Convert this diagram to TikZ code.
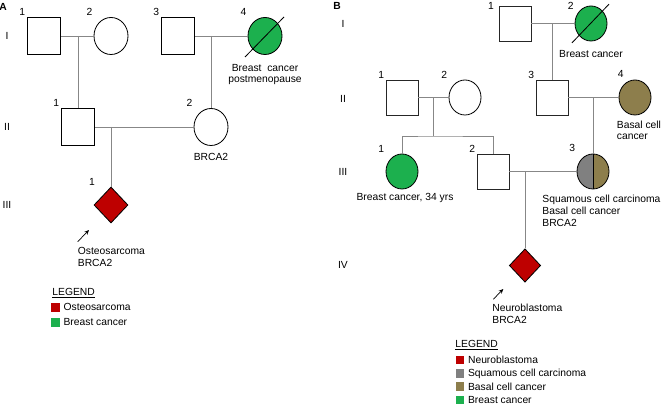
\documentclass[tikz,border=0pt]{standalone}
\usepackage{fontspec}
\setmainfont{Liberation Sans}
\usetikzlibrary{shapes.geometric,positioning,arrows.meta}

\definecolor{osteo}{RGB}{190,0,0}
\definecolor{breast}{RGB}{28,176,78}
\definecolor{squam}{RGB}{128,128,128}
\definecolor{basal}{RGB}{141,126,76}
\definecolor{kin}{RGB}{135,135,135}

\begin{document}
\begin{tikzpicture}[x=0.03cm,y=-0.03cm,font=\fontsize{8.8}{10.2}\selectfont,
    male/.style={rectangle,draw,line width=1.3pt,minimum width=1.0cm,minimum height=1.1cm,inner sep=0pt},
    female/.style={ellipse,draw,line width=0.7pt,minimum width=1.02cm,minimum height=1.11cm,inner sep=0pt},
    maleB/.style={rectangle,draw=black!85,line width=0.7pt,minimum width=0.96cm,minimum height=1.05cm,inner sep=0pt},
    femaleB/.style={ellipse,draw,line width=0.7pt,minimum width=0.96cm,minimum height=1.05cm,inner sep=0pt},
    proband/.style={diamond,draw,line width=0.7pt,fill=osteo,minimum width=1.02cm,minimum height=1.08cm,inner sep=0pt},
    num/.style={anchor=south east,inner sep=1pt},
    cnum/.style={num,xshift=-0.15cm,yshift=0.16cm},
    txt/.style={inner sep=1pt},
    tight/.style={txt,font=\fontsize{8.8}{9}\selectfont},
    kinline/.style={draw=kin,line width=0.7pt},
    dead/.style={line width=0.7pt},
    arr/.style={-{Stealth[length=4pt,width=3.5pt]},line width=0.6pt},
    key/.style={rectangle,fill=#1,minimum size=0.26cm,inner sep=0pt}]
  \useasboundingbox (0,0) rectangle (661,405);

  % panel A
  \node[txt,font=\fontsize{8.8}{10.2}\selectfont\bfseries,inner sep=0pt] (tagA) at (3,7) {A};
  \node[txt] (gA1) at (7,36) {I};
  \node[txt] (gA2) at (7,127) {II};
  \node[txt] (gA3) at (7,205) {III};

  \node[male,label={[num]north west:1}] (A11) at (44,36) {};
  \node[female,label={[cnum]north west:2}] (A12) at (111,36) {};
  \node[male,label={[num]north west:3}] (A13) at (178,36) {};
  \node[female,fill=breast,label={[cnum]north west:4}] (A14) at (265,36) {};
  \node[male,label={[num]north west:1}] (A21) at (78,127) {};
  \node[female,label={[cnum]north west:2}] (A22) at (211,127) {};
  \node[proband,label={[num,xshift=-0.44cm]north:1}] (A31) at (111,205) {};

  \draw[dead] ([shift={(-0.6cm,-0.63cm)}]A14.center) -- ([shift={(0.57cm,0.57cm)}]A14.center);

  \coordinate (mA1) at (78,36);
  \coordinate (mA2) at (211,36);
  \coordinate (mA3) at (111,127);
  \path[kinline] (A11) -- (A12) (A13) -- (A14) (A21) -- (A22)
    (mA1) -- (A21) (mA2) -- (A22) (mA3) -- (A31);

  \node[tight,align=center,below=7pt of A14] (tA14) {Breast\ \ cancer\\postmenopause};
  \node[txt,below=5.1pt of A22] (tA22) {BRCA2};

  \coordinate (pA0) at (77.7,241.7);
  \coordinate (pA1) at (89,230);
  \draw[arr] (pA0) -- (pA1);
  \node[txt,align=left,anchor=north west] (tA31) at (76.5,245.8) {Osteosarcoma\\BRCA2};

  % legend A
  \node[txt,anchor=north west] (legA) at (51,286.5) {\underline{LEGEND}};
  \node[key=osteo] (kA1) at (55.5,307.3) {};
  \node[key=breast] (kA2) at (55.5,322.3) {};
  \node[txt,right=1.8pt of kA1] (lA1) {Osteosarcoma};
  \node[txt,right=1.8pt of kA2] (lA2) {Breast cancer};

  % panel B
  \node[txt,font=\fontsize{8.8}{10.2}\selectfont\bfseries,inner sep=0pt] (tagB) at (337,5.5) {B};
  \node[txt] (gB1) at (343,24) {I};
  \node[txt] (gB2) at (343,99) {II};
  \node[txt] (gB3) at (343,171.5) {III};
  \node[txt] (gB4) at (343,265) {IV};

  \node[maleB,label={[num,anchor=east,xshift=-0.1cm]north west:1}] (B11) at (515,23.5) {};
  \node[femaleB,fill=breast,label={[num,anchor=east,xshift=-0.13cm,yshift=0.15cm]north west:2}] (B12) at (591,23.5) {};
  \node[maleB,label={[num]north west:1}] (B21) at (402,97.5) {};
  \node[femaleB,label={[cnum]north west:2}] (B22) at (465,97.5) {};
  \node[maleB,label={[num]north west:3}] (B23) at (552,97.5) {};
  \node[femaleB,fill=basal,label={[num,anchor=south,xshift=-0.08cm,yshift=0.17cm]north west:4}] (B24) at (635,97.5) {};
  \node[femaleB,fill=breast,label={[cnum]north west:1}] (B31) at (402,171.5) {};
  \node[maleB,label={[num]north west:2}] (B32) at (493,171.5) {};
  \node[femaleB,fill=basal,label={[cnum]north west:3},
    path picture={\fill[squam] (path picture bounding box.south west) rectangle (path picture bounding box.north);
      \draw[line width=0.7pt] (path picture bounding box.north) -- (path picture bounding box.south);}] (B33) at (593,171.5) {};
  \node[proband,minimum width=0.94cm,minimum height=1.0cm] (B41) at (525,265.5) {};

  \draw[dead] ([shift={(-0.57cm,-0.58cm)}]B12.center) -- ([shift={(0.54cm,0.58cm)}]B12.center);

  \coordinate (mB1) at (552,23.5);
  \coordinate (mB2) at (433,97.5);
  \coordinate (sB2) at (433,136);
  \coordinate (mB3) at (593,97.5);
  \coordinate (mB4) at (525,171.5);
  \path[kinline] (B11) -- (B12) (B21) -- (B22) (B23) -- (B24) (B32) -- (B33)
    (mB1) -- (B23) (mB2) -- (sB2) (mB3) -- (B33) (mB4) -- (B41);
  \draw[kinline] (B31.north) |- (sB2) -| (B32.north);

  \node[txt,below=6.6pt of B12] (tB12) {Breast cancer};
  \node[tight,align=left,anchor=north west] (tB24) at (615.5,119.8) {Basal cell\\cancer};
  \node[txt,below=2.4pt of B31,xshift=0.09cm] (tB31) {Breast cancer, 34 yrs};
  \node[txt,align=left,anchor=north west] (tB33) at (541,194) {Squamous cell carcinoma\\Basal cell cancer\\BRCA2};

  \coordinate (pB0) at (493.3,299.3);
  \coordinate (pB1) at (503.3,289);
  \draw[arr] (pB0) -- (pB1);
  \node[txt,align=left,anchor=north west] (tB41) at (491,303) {Neuroblastoma\\BRCA2};

  % legend B
  \node[txt,anchor=north west] (legB) at (454,339) {\underline{LEGEND}};
  \node[key=osteo] (kB1) at (460,360) {};
  \node[key=squam] (kB2) at (460,373.5) {};
  \node[key=basal] (kB3) at (460,386.5) {};
  \node[key=breast] (kB4) at (460,400) {};
  \node[txt,right=1.8pt of kB1] (lB1) {Neuroblastoma};
  \node[txt,right=1.8pt of kB2] (lB2) {Squamous cell carcinoma};
  \node[txt,right=1.8pt of kB3] (lB3) {Basal cell cancer};
  \node[txt,right=1.8pt of kB4] (lB4) {Breast cancer};
\end{tikzpicture}
\end{document}
